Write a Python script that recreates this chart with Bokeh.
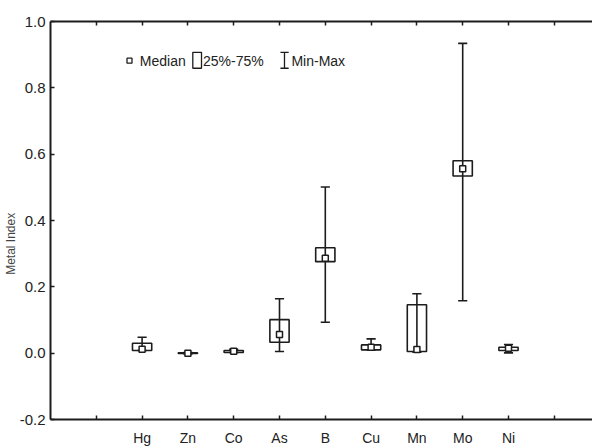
from bokeh.plotting import figure
from bokeh.models import Range1d, FixedTicker, LinearAxis, ColumnDataSource
from bokeh.core.properties import value
from bokeh.embed import file_html
from bokeh.resources import INLINE

# ---- data ----
metals = ["Hg", "Zn", "Co", "As", "B", "Cu", "Mn", "Mo", "Ni"]
v_min = [0.008, -0.002, 0.002, 0.005, 0.093, 0.010, 0.003, 0.158, 0.001]
v_q1 = [0.008, -0.001, 0.002, 0.033, 0.276, 0.010, 0.005, 0.534, 0.008]
v_median = [0.012, 0.000, 0.006, 0.056, 0.286, 0.018, 0.011, 0.556, 0.015]
v_q3 = [0.030, 0.001, 0.008, 0.101, 0.318, 0.025, 0.146, 0.580, 0.018]
v_max = [0.048, 0.002, 0.012, 0.164, 0.501, 0.043, 0.179, 0.934, 0.026]
y_ticks = [-0.2, 0.0, 0.2, 0.4, 0.6, 0.8, 1.0]

# category slots: one empty slot on each side of the data
xs = [i + 2 for i in range(len(metals))]
x_tick_pos = list(range(1, len(metals) + 3))
x_labels = {t: "" for t in x_tick_pos}
for x, m in zip(xs, metals):
    x_labels[x] = m

FONT = "Liberation Sans"
INK = "#1c1c1c"
BOX_W = 0.42
CAP_W = 0.2

src = ColumnDataSource(dict(
    x=xs, lo=v_min, q1=v_q1, med=v_median, q3=v_q3, hi=v_max,
    cl=[x - CAP_W / 2 for x in xs], cr=[x + CAP_W / 2 for x in xs],
))

p = figure(width=592, height=448, output_backend="svg", toolbar_location=None,
           x_range=Range1d(0, 11.834), y_range=Range1d(-0.2, 1.0),
           min_border_left=50, min_border_right=0, min_border_top=21,
           min_border_bottom=29, x_axis_location=None, y_axis_location=None)
p.outline_line_color = None
p.xgrid.visible = False
p.ygrid.visible = False
p.background_fill_color = "white"
p.border_fill_color = "white"

# whiskers, caps, boxes, medians
p.segment(x0="x", y0="lo", x1="x", y1="hi", source=src, line_color=INK, line_width=1.6)
p.segment(x0="cl", y0="hi", x1="cr", y1="hi", source=src, line_color=INK, line_width=1.6)
p.segment(x0="cl", y0="lo", x1="cr", y1="lo", source=src, line_color=INK, line_width=1.6)
p.vbar(x="x", width=BOX_W, bottom="q1", top="q3", source=src,
       fill_color=None, line_color=INK, line_width=1.6)
p.scatter(x="x", y="med", source=src, marker="square", size=6,
          fill_color="white", line_color=INK, line_width=1.5)

# axes
def style_axis(ax):
    ax.axis_line_color = INK
    ax.axis_line_width = 2
    ax.major_tick_line_color = INK
    ax.major_tick_line_width = 1.5
    ax.major_tick_in = 4
    ax.major_tick_out = 0
    ax.minor_tick_line_color = None
    ax.major_label_text_font = FONT
    ax.major_label_text_color = "#222222"

yax = LinearAxis(ticker=FixedTicker(ticks=y_ticks),
                 axis_label="Metal Index" + "\u00a0" * 14)
style_axis(yax)
yax.major_label_text_font_size = "15px"
yax.major_label_standoff = 5
yax.axis_label_text_font = FONT
yax.axis_label_text_font_size = "12px"
yax.axis_label_text_font_style = "normal"
yax.axis_label_standoff = -1
yax.major_label_overrides = {t: f"{t:.1f}" for t in y_ticks}
p.add_layout(yax, "left")

xax = LinearAxis(ticker=FixedTicker(ticks=x_tick_pos))
style_axis(xax)
xax.major_label_overrides = x_labels
xax.major_label_text_font_size = "14px"
xax.major_label_standoff = 10
p.add_layout(xax, "below")

tax = LinearAxis(ticker=FixedTicker(ticks=x_tick_pos))
style_axis(tax)
tax.major_label_overrides = {t: "" for t in x_tick_pos}
tax.major_label_text_font_size = "0px"
tax.major_label_standoff = 0
p.add_layout(tax, "above")

# legend drawn by hand (positions in data units of the frame)
leg_y = 0.882
p.scatter(x=[1.725], y=[leg_y], marker="square", size=5,
          fill_color="white", line_color=INK, line_width=1.3)
p.quad(left=[3.107], right=[3.297], bottom=[0.859], top=[0.907],
       fill_color=None, line_color=INK, line_width=1.3)
p.segment(x0=[5.109], y0=[0.859], x1=[5.109], y1=[0.907], line_color=INK, line_width=1.3)
p.segment(x0=[5.02], y0=[0.907], x1=[5.20], y1=[0.907], line_color=INK, line_width=1.3)
p.segment(x0=[5.02], y0=[0.859], x1=[5.20], y1=[0.859], line_color=INK, line_width=1.3)
p.text(x=[1.95, 3.33, 5.26], y=[leg_y, leg_y, leg_y],
       text=["Median", "25%-75%", "Min-Max"],
       text_font=value(FONT), text_font_size="14px", text_color="#222222",
       text_baseline="middle", text_align="left")

open("out.html", "w").write(file_html(p, INLINE))
